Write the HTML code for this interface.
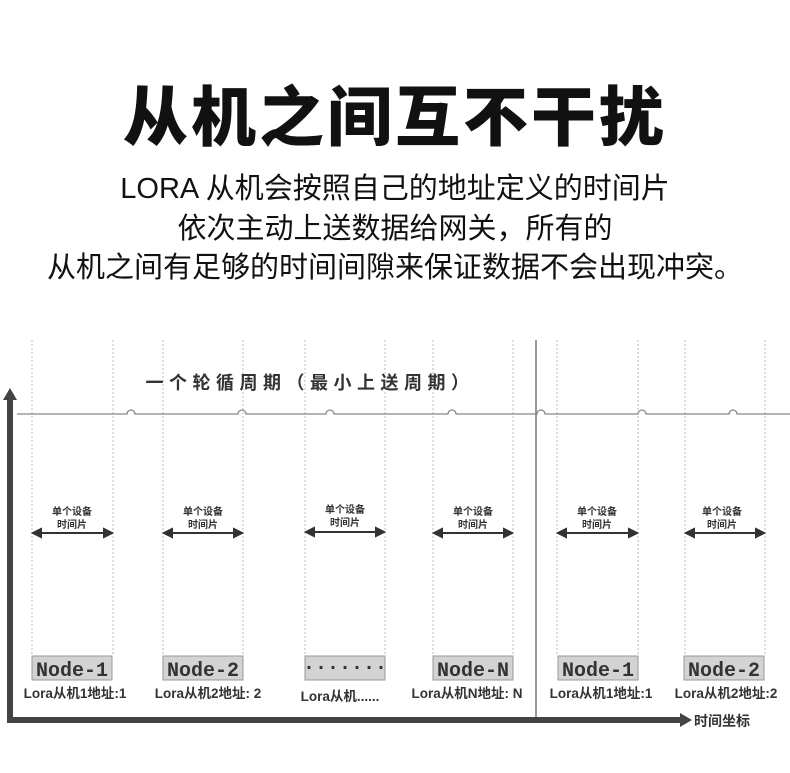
<!DOCTYPE html>
<html><head><meta charset="utf-8"><style>
body{margin:0;width:790px;height:773px;background:#fff;overflow:hidden;font-family:"Liberation Sans","Noto Sans CJK SC",sans-serif;}
.t{position:absolute;left:0;width:790px;text-align:center;color:#111;}
</style></head><body>
<div class="t" style="top:78px;font-size:65px;font-weight:900;letter-spacing:3px;line-height:80px;">从机之间互不干扰</div>
<div class="t" style="top:170px;font-size:29px;line-height:39.5px;">LORA 从机会按照自己的地址定义的时间片<br>依次主动上送数据给网关，所有的<br>从机之间有足够的时间间隙来保证数据不会出现冲突。</div>
<svg width="790" height="773" style="position:absolute;left:0;top:0" font-family="Liberation Sans,Noto Sans CJK SC,sans-serif">
<g stroke="#bbb" stroke-width="1" stroke-dasharray="2,2">
<line x1="32" y1="340" x2="32" y2="655"/><line x1="113" y1="340" x2="113" y2="655"/>
<line x1="163" y1="340" x2="163" y2="655"/><line x1="243" y1="340" x2="243" y2="655"/>
<line x1="305" y1="340" x2="305" y2="655"/><line x1="385" y1="340" x2="385" y2="655"/>
<line x1="433" y1="340" x2="433" y2="655"/><line x1="513" y1="340" x2="513" y2="655"/>
<line x1="557" y1="340" x2="557" y2="655"/><line x1="638" y1="340" x2="638" y2="655"/>
<line x1="685" y1="340" x2="685" y2="655"/><line x1="765" y1="340" x2="765" y2="655"/>
</g>
<line x1="536" y1="340" x2="536" y2="720" stroke="#777" stroke-width="1.5"/>
<path d="M17 414 H127 a4 4 0 0 1 8 0 H238 a4 4 0 0 1 8 0 H326 a4 4 0 0 1 8 0 H448 a4 4 0 0 1 8 0 H537 a4 4 0 0 1 8 0 H638 a4 4 0 0 1 8 0 H729 a4 4 0 0 1 8 0 H790" fill="none" stroke="#888" stroke-width="1.3"/>
<text x="310" y="389" text-anchor="middle" font-size="18" font-weight="bold" fill="#333" letter-spacing="5.5">一个轮循周期（最小上送周期）</text>
<rect x="7" y="398" width="6" height="324" fill="#444"/>
<polygon points="3,400 10,388 17,400" fill="#444"/>
<rect x="7" y="717" width="675" height="6" fill="#444"/>
<polygon points="680,713 692,720 680,727" fill="#444"/>
<text x="694" y="726" font-size="14" font-weight="bold" fill="#333">时间坐标</text>
<g font-size="10" font-weight="bold" fill="#333" text-anchor="middle">
<text x="72" y="515">单个设备</text><text x="72" y="528">时间片</text>
<text x="203" y="515">单个设备</text><text x="203" y="528">时间片</text>
<text x="345" y="513">单个设备</text><text x="345" y="526">时间片</text>
<text x="473" y="515">单个设备</text><text x="473" y="528">时间片</text>
<text x="597" y="515">单个设备</text><text x="597" y="528">时间片</text>
<text x="722" y="515">单个设备</text><text x="722" y="528">时间片</text>
</g>
<g stroke="#333" stroke-width="2" fill="#333">
<line x1="38" y1="533" x2="107" y2="533"/><polygon points="33,533 41,529 41,537"/><polygon points="112,533 104,529 104,537"/>
<line x1="169" y1="533" x2="237" y2="533"/><polygon points="164,533 172,529 172,537"/><polygon points="242,533 234,529 234,537"/>
<line x1="311" y1="532" x2="379" y2="532"/><polygon points="306,532 314,528 314,536"/><polygon points="384,532 376,528 376,536"/>
<line x1="439" y1="533" x2="507" y2="533"/><polygon points="434,533 442,529 442,537"/><polygon points="512,533 504,529 504,537"/>
<line x1="563" y1="533" x2="632" y2="533"/><polygon points="558,533 566,529 566,537"/><polygon points="637,533 629,529 629,537"/>
<line x1="691" y1="533" x2="759" y2="533"/><polygon points="686,533 694,529 694,537"/><polygon points="764,533 756,529 756,537"/>
</g>
<g fill="#d3d3d3" stroke="#999">
<rect x="32" y="656" width="80" height="24"/><rect x="163" y="656" width="80" height="24"/>
<rect x="305" y="656" width="80" height="24"/><rect x="433" y="656" width="80" height="24"/>
<rect x="558" y="656" width="80" height="24"/><rect x="684" y="656" width="80" height="24"/>
</g>
<g font-family="Liberation Mono,monospace" font-size="20" font-weight="bold" fill="#333" text-anchor="middle">
<text x="72" y="676">Node-1</text><text x="203" y="676">Node-2</text>
<text x="345" y="673">·······</text><text x="473" y="676">Node-N</text>
<text x="598" y="676">Node-1</text><text x="724" y="676">Node-2</text>
</g>
<g font-size="13.5" font-weight="bold" fill="#333" text-anchor="middle">
<text x="75" y="698">Lora从机1地址:1</text><text x="208" y="698">Lora从机2地址: 2</text>
<text x="340" y="701">Lora从机......</text><text x="467" y="698">Lora从机N地址: N</text>
<text x="601" y="698">Lora从机1地址:1</text><text x="726" y="698">Lora从机2地址:2</text>
</g>
</svg>
</body></html>
